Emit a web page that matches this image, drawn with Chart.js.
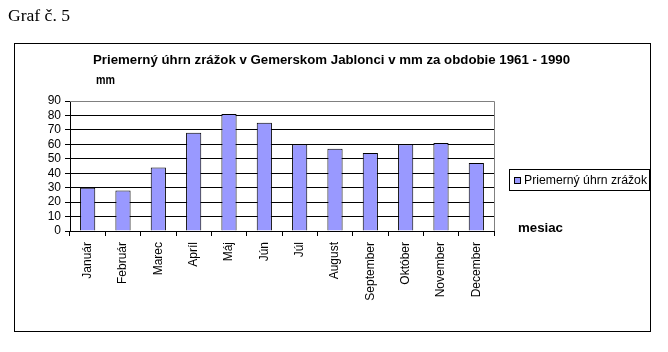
<!DOCTYPE html>
<html>
<head>
<meta charset="utf-8">
<script src="https://cdn.jsdelivr.net/npm/chart.js@4"></script>
<style>
html,body{margin:0;padding:0;background:#fff;}
#wrap{width:668px;height:352px;position:relative;}
</style>
</head>
<body>
<div id="wrap"><canvas id="c" width="668" height="352"></canvas></div>
<script>
const categories = ["Január","Február","Marec","Apríl","Máj","Jún","Júl","August","September","Október","November","December"];
const values = [30, 28, 44, 68, 81, 75, 60, 57, 54, 60, 61, 47];
const seriesLabel = "Priemerný úhrn zrážok";
const yTicks = [0,10,20,30,40,50,60,70,80,90];
const pageTitle = "Graf č. 5";
const chartTitle = "Priemerný úhrn zrážok v Gemerskom Jablonci v mm za obdobie 1961 - 1990";
const yTitle = "mm";
const xTitle = "mesiac";

function fitText(ctx, text, x, y, width, font) {
  ctx.save();
  ctx.font = font;
  const w = ctx.measureText(text).width;
  ctx.translate(x, y);
  ctx.scale(width / w, 1);
  ctx.fillText(text, 0, 0);
  ctx.restore();
}

const deco = {
  id: 'deco',
  beforeDraw(chart) {
    const ctx = chart.ctx;
    ctx.save();
    ctx.fillStyle = '#fff';
    ctx.fillRect(0, 0, chart.width, chart.height);
    ctx.restore();
  },
  afterDraw(chart) {
    const ctx = chart.ctx;
    const a = chart.chartArea;
    ctx.save();
    ctx.strokeStyle = '#000';
    ctx.lineWidth = 1;
    ctx.strokeRect(14.5, 43.5, 636, 288);
    ctx.strokeStyle = '#808080';
    ctx.beginPath();
    ctx.moveTo(Math.round(a.right) + 0.5, a.bottom);
    ctx.lineTo(Math.round(a.right) + 0.5, Math.round(a.top) + 0.5);
    ctx.lineTo(a.left, Math.round(a.top) + 0.5);
    ctx.stroke();
    ctx.fillStyle = '#000';
    ctx.textBaseline = 'middle';
    ctx.textAlign = 'left';
    fitText(ctx, pageTitle, 8, 17, 62, '17px "Liberation Serif", "Times New Roman", serif');
    fitText(ctx, chartTitle, 93, 60, 477, 'bold 13px "Liberation Sans", Arial, sans-serif');
    fitText(ctx, yTitle, 96, 81, 19, 'bold 12px "Liberation Sans", Arial, sans-serif');
    fitText(ctx, xTitle, 518, 229, 45, 'bold 12px "Liberation Sans", Arial, sans-serif');
    const ds = chart.data.datasets[0];
    ctx.strokeStyle = '#000';
    ctx.strokeRect(509.5, 169.5, 140, 21);
    ctx.fillStyle = ds.backgroundColor;
    ctx.fillRect(514, 177, 7, 7);
    ctx.strokeRect(514.5, 177.5, 6, 6);
    ctx.fillStyle = '#000';
    fitText(ctx, ds.label, 524, 180.5, 123, '12px "Liberation Sans", Arial, sans-serif');
    ctx.restore();
  }
};

new Chart(document.getElementById('c'), {
  type: 'bar',
  data: {
    labels: categories,
    datasets: [{
      label: seriesLabel,
      data: values,
      backgroundColor: '#9999FF',
      borderColor: '#000',
      borderWidth: 1,
      barPercentage: 0.43,
      categoryPercentage: 1.0
    }]
  },
  options: {
    responsive: false,
    animation: false,
    devicePixelRatio: 1,
    layout: { padding: { left: 20, right: 174, top: 101, bottom: 41 } },
    plugins: { legend: { display: false }, title: { display: false }, tooltip: { enabled: false } },
    scales: {
      x: {
        offset: true,
        afterFit(s) { s.height = 80; },
        grid: { offset: true, drawOnChartArea: false, drawTicks: true, tickLength: 5, color: '#000' },
        border: { color: '#000', width: 1 },
        ticks: {
          minRotation: 90, maxRotation: 90, autoSkip: false, padding: 6,
          color: '#000',
          font: { family: '"Liberation Sans", Arial, sans-serif', size: 12 }
        }
      },
      y: {
        min: 0, max: 90,
        afterFit(s) { s.width = 50; },
        afterBuildTicks(s) { s.ticks = yTicks.map(v => ({ value: v })); },
        grid: {
          color: '#000',
          tickColor: '#000',
          tickLength: 5,
          drawTicks: true
        },
        border: { color: '#000', width: 1 },
        ticks: {
          autoSkip: false,
          stepSize: 10,
          padding: 4,
          color: '#000',
          font: { family: '"Liberation Sans", Arial, sans-serif', size: 12 }
        }
      }
    }
  },
  plugins: [deco]
});
</script>
</body>
</html>
